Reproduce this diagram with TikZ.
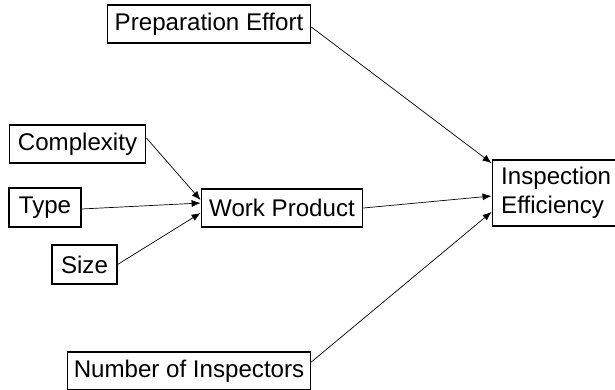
\documentclass[tikz,border=0pt]{standalone}
\usepackage{fontspec}
\setmainfont{Liberation Sans}
\usetikzlibrary{arrows.meta}

\begin{document}
\begin{tikzpicture}[x=1bp, y=1bp,
		factor/.style={draw, line width=1.4bp, inner sep=0pt, font=\fontsize{24.2}{29}\selectfont},
		link/.style={line width=0.7bp, -{Latex[length=9bp, width=7bp]}}]
		%%%%% START %%%%%
		
		\useasboundingbox (0, 0) rectangle (615, 389);
		
		\node[factor, minimum width=204, minimum height=38] (prep) at (209, 365) {Preparation Effort};
		\node[factor, minimum width=137, minimum height=38] (cplx) at (77.5, 245) {Complexity};
		\node[factor, minimum width=72, minimum height=39] (type) at (45, 181.5) {Type};
		\node[factor, minimum width=65, minimum height=39] (size) at (84.5, 124.5) {Size};
		\node[factor, minimum width=162, minimum height=38] (wp) at (282, 181) {Work Product};
		\node[factor, minimum width=244, minimum height=38] (ninsp) at (189, 18) {Number of Inspectors};
		\node[factor, minimum height=66, text width=106, inner xsep=9, align=left] (eff) at (554, 196) {Inspection\\Efficiency};
		
		\draw[link] ([yshift=6]cplx.east) -- ([yshift=8]wp.west);
		\draw[link] ([yshift=-1.5]type.east) -- ([yshift=5]wp.west);
		\draw[link] (size.east) -- ([yshift=-5]wp.west);
		
		\draw[link] ([yshift=-3]prep.east) -- ([yshift=30]eff.west);
		\draw[link] (wp.east) -- ([yshift=-3]eff.west);
		\draw[link] ([yshift=9]ninsp.east) -- ([yshift=-19]eff.west);
		
		%%%%% END %%%%%
\end{tikzpicture}
\end{document}
